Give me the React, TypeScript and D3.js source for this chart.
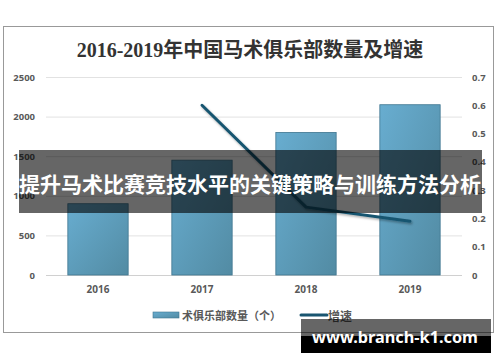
import React from 'react';
import * as d3 from 'd3';

const years = ['2016', '2017', '2018', '2019'];
const clubCounts = [900, 1450, 1800, 2150];
const growthRates: (number | null)[] = [null, 0.6, 0.24, 0.19];
const leftTicks = [0, 500, 1000, 1500, 2000, 2500];
const rightTicks = [0, 0.1, 0.2, 0.3, 0.4, 0.5, 0.6, 0.7];
const titleText = '2016-2019年中国马术俱乐部数量及增速';
const legendBar = '术俱乐部数量（个）';
const legendLine = '增速';
const bannerText = '提升马术比赛竞技水平的关键策略与训练方法分析';
const watermark = 'www.branch-k1.com';

export default function App() {
  const x = d3.scaleBand<string>().domain(years).range([46, 462]).paddingInner(0.42).paddingOuter(0.21);
  const yL = d3.scaleLinear().domain([0, 2500]).range([275, 77]);
  const yR = d3.scaleLinear().domain([0, 0.7]).range([275, 77]);
  const pts = years
    .map((yr, i) => ({ yr, v: growthRates[i] }))
    .filter((d) => d.v !== null) as { yr: string; v: number }[];
  const line = d3
    .line<{ yr: string; v: number }>()
    .x((d) => (x(d.yr) as number) + x.bandwidth() / 2)
    .y((d) => yR(d.v));
  const axisFont = "'Open Sans', 'Noto Sans', sans-serif";
  const cjk = "'Noto Sans CJK SC', 'Noto Sans', sans-serif";
  return (
    <svg width={500} height={362} style={{ position: 'absolute', left: 0, top: 0 }}>
      <defs>
        <linearGradient id="barGrad" x1="0" y1="0" x2="1" y2="1">
          <stop offset="0%" stopColor="#68add0" />
          <stop offset="100%" stopColor="#528ba3" />
        </linearGradient>
        <filter id="shadow" x="-10%" y="-10%" width="130%" height="130%">
          <feDropShadow dx="1" dy="1.5" stdDeviation="1" floodColor="#000" floodOpacity="0.35" />
        </filter>
      </defs>
      <rect x={0} y={0} width={500} height={362} fill="#fff" />
      <rect x={3.5} y={26.5} width={490} height={306} fill="#fff" stroke="#999" strokeWidth={1} />
      <text x={250} y={57} textAnchor="middle" fontSize={20} fill="#333"
        fontFamily="'Liberation Serif', 'DejaVu Serif', 'Noto Sans CJK SC', serif" fontWeight="bold">
        {titleText}
      </text>
      {leftTicks.map((t) => (
        <line key={'g' + t} x1={46} x2={462} y1={yL(t) + 0.5} y2={yL(t) + 0.5}
          stroke={t === 0 ? '#d0d0d0' : '#e2e2e2'} strokeWidth={1} />
      ))}
      {leftTicks.map((t) => (
        <text key={'l' + t} x={35} y={yL(t)} textAnchor="end" dominantBaseline="central"
          fontSize={9.5} fontWeight="bold" fill="#595959" fontFamily={axisFont}>
          {t}
        </text>
      ))}
      {rightTicks.map((t) => (
        <text key={'r' + t} x={472} y={yR(t)} textAnchor="start" dominantBaseline="central"
          fontSize={9.5} fontWeight="bold" fill="#595959" fontFamily={axisFont}>
          {t === 0 ? '0' : t.toFixed(1)}
        </text>
      ))}
      {years.map((yr, i) => (
        <rect key={'b' + yr} x={x(yr)} y={yL(clubCounts[i])} width={x.bandwidth()}
          height={yL(0) - yL(clubCounts[i])} fill="url(#barGrad)" stroke="#3f7690" strokeWidth={0.8} />
      ))}
      {years.map((yr) => (
        <text key={'x' + yr} x={(x(yr) as number) + x.bandwidth() / 2} y={293} textAnchor="middle"
          fontSize={10} fontWeight="bold" fill="#595959" fontFamily={axisFont}>
          {yr}
        </text>
      ))}
      <path d={line(pts) || ''} fill="none" stroke="#195570" strokeWidth={3} strokeLinecap="round"
        strokeLinejoin="round" filter="url(#shadow)" />
      <rect x={153} y={312} width={26} height={6} fill="url(#barGrad)" stroke="#3f7690" strokeWidth={0.6} />
      <text x={182} y={315} dominantBaseline="central" fontSize={11} fontWeight="bold" fill="#595959"
        fontFamily={cjk}>
        {legendBar}
      </text>
      <line x1={301} x2={327} y1={315} y2={315} stroke="#195570" strokeWidth={3} strokeLinecap="round" />
      <text x={328} y={315} dominantBaseline="central" fontSize={12} fontWeight="bold" fill="#595959"
        fontFamily={cjk}>
        {legendLine}
      </text>
      <rect x={19} y={150} width={463} height={63} fill="rgba(0,0,0,0.6)" />
      <text x={250} y={192} textAnchor="middle" fontSize={21} fontWeight="bold" fill="#fff"
        fontFamily={cjk} textLength={462} lengthAdjust="spacingAndGlyphs">
        {bannerText}
      </text>
      <rect x={301} y={319} width={190} height={17} fill="rgba(0,0,0,0.6)" />
      <rect x={301} y={336} width={190} height={17} fill="#000" />
      <text x={395} y={343} textAnchor="middle" fontSize={16} fontWeight="bold" fill="#fff"
        fontFamily="'Noto Sans', 'DejaVu Sans', sans-serif" textLength={166} lengthAdjust="spacingAndGlyphs">
        {watermark}
      </text>
    </svg>
  );
}
